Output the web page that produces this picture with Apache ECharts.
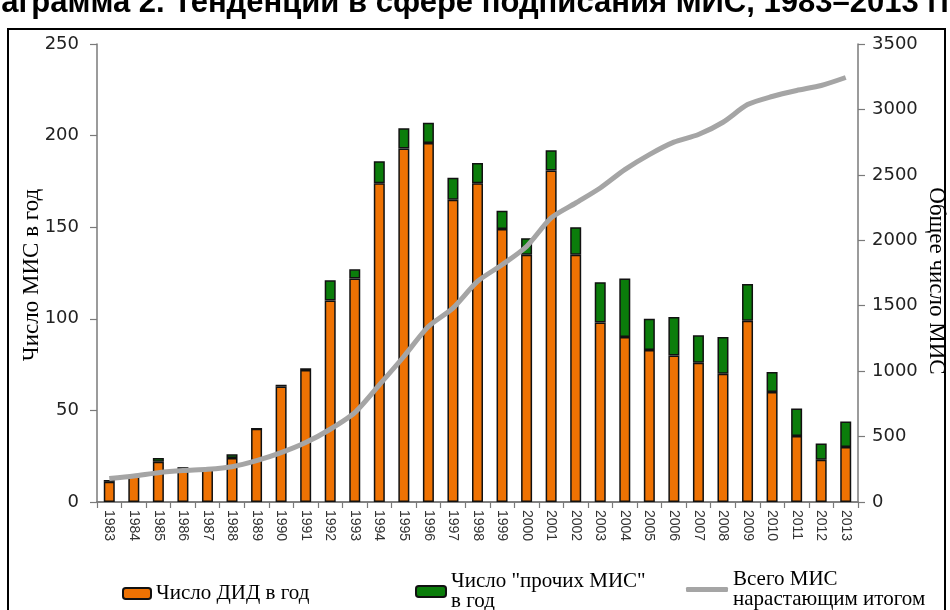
<!DOCTYPE html>
<html><head><meta charset="utf-8">
<script src="https://cdn.jsdelivr.net/npm/echarts@6/dist/echarts.min.js"></script>
<style>html,body{margin:0;padding:0;background:#fff}#c{width:950px;height:610px}</style>
</head><body><div id="c"></div>
<script>
const years = ['1983','1984','1985','1986','1987','1988','1989','1990','1991','1992','1993','1994','1995','1996','1997','1998','1999','2000','2001','2002','2003','2004','2005','2006','2007','2008','2009','2010','2011','2012','2013'];
const didPerYear = [11,14,22,18,18,24,40,63,72,110,122,174,193,196,165,174,149,135,181,135,98,90,83,80,76,70,99,60,36,23,30];
const otherPerYear = [1,0,2,1,0,2,0,1,1,11,5,12,11,11,12,11,10,9,11,15,22,32,17,21,15,20,20,11,15,9,14];
const cumulativeTotal = [180,199,224,240,250,270,316,377,454,556,683,895,1112,1341,1482,1686,1813,1953,2171,2285,2400,2540,2655,2750,2808,2902,3037,3099,3145,3183,3244];
const leftTicks = {min:0,max:250,interval:50};
const rightTicks = {min:0,max:3500,interval:500};

const chart = echarts.init(document.getElementById('c'), null, {renderer:'canvas'});
const axisGray = '#7a7a7a';
const legendText = {fontFamily:'Liberation Serif',fontSize:21,color:'#000',lineHeight:20};
chart.setOption({
  animation:false,
  backgroundColor:'#fff',
  grid:{left:97,right:92,top:44,bottom:108},
  xAxis:[{
    type:'category', data:years, boundaryGap:true,
    axisLine:{lineStyle:{color:axisGray,width:1.5}},
    axisTick:{show:true,length:6,lineStyle:{color:axisGray,width:1.2}},
    axisLabel:{rotate:-90,fontFamily:'Liberation Sans',fontSize:14,color:'#333',margin:8,interval:0}
  },{
    type:'category', data:years, position:'top',
    axisLine:{lineStyle:{color:axisGray,width:1.5}},
    axisTick:{show:false}, axisLabel:{show:false}
  }],
  yAxis:[{
    type:'value', min:leftTicks.min, max:leftTicks.max, interval:leftTicks.interval,
    axisLine:{show:true,lineStyle:{color:axisGray,width:1.5}},
    axisTick:{show:true,length:7,lineStyle:{color:axisGray,width:1.2}},
    splitLine:{show:false},
    axisLabel:{fontFamily:'DejaVu Sans',fontSize:18,color:'#222',margin:18,formatter:v=>String(v)}
  },{
    type:'value', min:rightTicks.min, max:rightTicks.max, interval:rightTicks.interval, position:'right',
    axisLine:{show:true,lineStyle:{color:axisGray,width:1.5}},
    axisTick:{show:true,length:7,lineStyle:{color:axisGray,width:1.2}},
    splitLine:{show:false},
    axisLabel:{fontFamily:'DejaVu Sans',fontSize:18,color:'#222',margin:14,formatter:v=>String(v)}
  }],
  legend:[{
    left:117, top:578, itemWidth:28, itemHeight:11, itemGap:6,
    textStyle:legendText,
    data:['Число ДИД в год']
  },{
    left:410, top:566, itemWidth:30, itemHeight:11, itemGap:6,
    textStyle:legendText,
    data:['Число "прочих МИС"\nв год']
  },{
    left:681, top:564, itemWidth:42, itemHeight:5, itemGap:6,
    textStyle:legendText,
    data:[{name:'Всего МИС\nнарастающим итогом',icon:'roundRect',itemStyle:{color:'#a5a5a5',borderWidth:0}}]
  }],
  series:[{
    name:'Число ДИД в год', type:'bar', stack:'s', data:didPerYear, barWidth:11,
    itemStyle:{color:'#ee7203',borderColor:'#111',borderWidth:1.5}
  },{
    name:'Число "прочих МИС"\nв год', type:'bar', stack:'s', data:otherPerYear, barWidth:11,
    itemStyle:{color:'#0b7d0b',borderColor:'#111',borderWidth:1.5}
  },{
    name:'Всего МИС\nнарастающим итогом', type:'line', yAxisIndex:1, data:cumulativeTotal,
    symbol:'none', smooth:0.25,
    lineStyle:{color:'#a5a5a5',width:5}, itemStyle:{color:'#a5a5a5'}
  }],
  graphic:[
    {type:'text', left:-40, top:-12, style:{text:'Диаграмма 2. Тенденции в сфере подписания МИС, 1983–2013 гг.',font:'bold 31px "Liberation Sans"',fill:'#000'}},
    {type:'rect', shape:{x:8,y:29,width:937,height:600}, style:{fill:'none',stroke:'#000',lineWidth:2}},
    {type:'text', x:32, y:275, rotation:Math.PI/2, style:{text:'Число МИС в год',font:'23px "Liberation Serif"',fill:'#000',align:'center',verticalAlign:'middle'}},
    {type:'text', x:936, y:281, rotation:-Math.PI/2, style:{text:'Общее число МИС',font:'23px "Liberation Serif"',fill:'#000',align:'center',verticalAlign:'middle'}}
  ]
});
</script></body></html>
